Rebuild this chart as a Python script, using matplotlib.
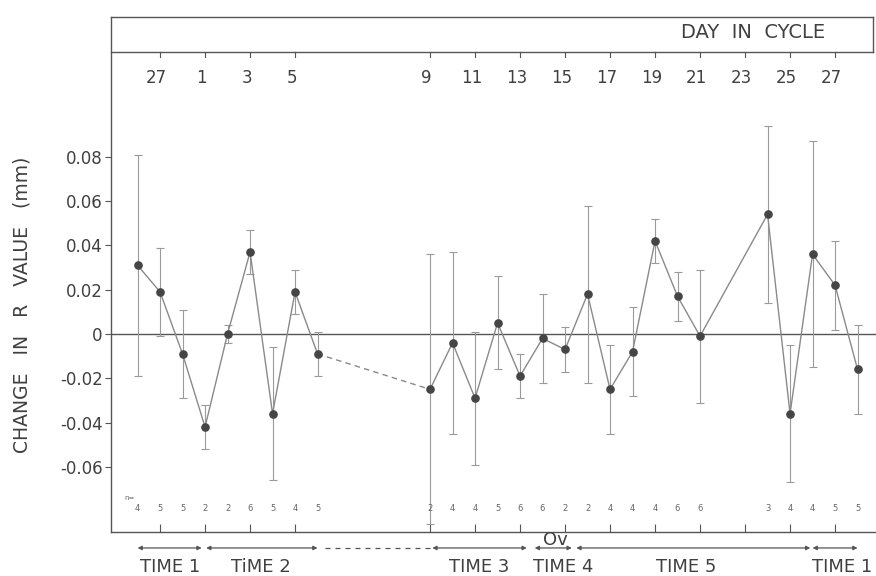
import matplotlib
matplotlib.use("Agg")
import matplotlib.pyplot as plt
import matplotlib.transforms as mtransforms

plt.rcParams["font.family"] = ["DejaVu Sans"]
plt.rcParams["axes.unicode_minus"] = False

# Position of each sample on the plotted time axis (one unit per day)
axis_day = [0, 1, 2, 3, 4, 5, 6, 7, 8,
            13, 14, 15, 16, 17, 18, 19, 20, 21, 22, 23, 24, 25,
            28, 29, 30, 31, 32]
# Mean change in R value (mm) and its error
change = [0.031, 0.019, -0.009, -0.042, 0.000, 0.037, -0.036, 0.019, -0.009,
          -0.025, -0.004, -0.029, 0.005, -0.019, -0.002, -0.007, 0.018, -0.025,
          -0.008, 0.042, 0.017, -0.001,
          0.054, -0.036, 0.036, 0.022, -0.016]
error = [0.050, 0.020, 0.020, 0.010, 0.004, 0.010, 0.030, 0.010, 0.010,
         0.061, 0.041, 0.030, 0.021, 0.010, 0.020, 0.010, 0.040, 0.020,
         0.020, 0.010, 0.011, 0.030,
         0.040, 0.031, 0.051, 0.020, 0.020]
n_obs = [4, 5, 5, 2, 2, 6, 5, 4, 5,
         2, 4, 4, 5, 6, 6, 2, 2, 4, 4, 4, 6, 6,
         3, 4, 4, 5, 5]

# Day-in-cycle labels along the top
cycle_days = [27, 1, 3, 5, 9, 11, 13, 15, 17, 19, 21, 23, 25, 27]
cycle_pos = [1, 3, 5, 7, 13, 15, 17, 19, 21, 23, 25, 27, 29, 31]

y_ticks = [-0.06, -0.04, -0.02, 0, 0.02, 0.04, 0.06, 0.08]
y_labels = ["-0.06", "-0.04", "-0.02", "0", "0.02", "0.04", "0.06", "0.08"]

# Study periods: (label, start, end, label centre)
periods = [("TIME 1", 0.0, 2.85, 1.45),
           ("TiME 2", 3.05, 8.0, 5.5),
           ("TIME 3", 13.1, 17.3, 15.2),
           ("TIME 4", 17.65, 19.3, 18.9),
           ("TIME 5", 19.5, 29.9, 24.4),
           ("TIME 1", 30.0, 32.0, 31.3)]

TXT = "#404040"
AX = "#555555"
LN = "#8a8a8a"

fig = plt.figure(figsize=(8.76, 5.76), dpi=100)
fig.patch.set_facecolor("white")
ax = fig.add_axes([111 / 876, 44 / 576, 765 / 876, 515 / 576])

x_lo, x_hi = -1.18, 32.82
y_lo, y_hi = -0.0894, 0.1431
header_y = 0.1273
right_edge = 32.69
ax.set_xlim(x_lo, x_hi)
ax.set_ylim(y_lo, y_hi)

for s in ("top", "right"):
    ax.spines[s].set_visible(False)
for s in ("left", "bottom"):
    ax.spines[s].set_color(AX)
    ax.spines[s].set_linewidth(1.0)

# y axis ticks
ax.set_yticks(y_ticks)
ax.set_yticklabels(y_labels, fontsize=12, color=TXT)
ax.tick_params(axis="y", direction="out", length=4, width=0.8, color=AX, pad=2)
ax.set_ylabel("CHANGE   IN   R   VALUE   (mm)", fontsize=13.5, color=TXT)
ax.yaxis.set_label_coords(-0.104, 0.441)

# bottom ticks point inward, no labels
ax.set_xticks(cycle_pos)
ax.set_xticklabels([])
ax.tick_params(axis="x", direction="in", length=6, width=0.8, color=AX)

# zero line
ax.axhline(0, color=AX, lw=1.0, zorder=1)

# header box
ax.plot([x_lo, right_edge], [y_hi, y_hi], color=AX, lw=1.0, clip_on=False)
ax.plot([x_lo, right_edge], [header_y, header_y], color=AX, lw=1.0, clip_on=False)
ax.plot([right_edge, right_edge], [header_y, y_hi], color=AX, lw=1.0, clip_on=False)
for p, d in zip(cycle_pos, cycle_days):
    ax.plot([p, p], [header_y, header_y - 0.0022], color=AX, lw=0.8)
    ax.text(p - 0.15, 0.1155, str(d), ha="center", va="center", fontsize=12, color=TXT)
ax.text(30.56, 0.1359, "DAY  IN  CYCLE", ha="right", va="center",
        fontsize=14, color=TXT)

# error bars
ax.errorbar(axis_day, change, yerr=error, fmt="none", ecolor="#9a9a9a",
            elinewidth=0.8, capsize=3, capthick=0.8, zorder=2)

# connecting lines: solid within runs, dashed across the gap
gap = axis_day.index(13)
ax.plot(axis_day[:gap], change[:gap], color=LN, lw=1.0, zorder=3)
ax.plot(axis_day[gap:], change[gap:], color=LN, lw=1.0, zorder=3)
ax.plot(axis_day[gap - 1:gap + 1], change[gap - 1:gap + 1], color=LN, lw=1.0,
        ls=(0, (4, 3)), zorder=3)
ax.plot(axis_day, change, "o", color="#454545", ms=5.2, zorder=4)

# sample sizes
for p, k in zip(axis_day, n_obs):
    ax.text(p, -0.0786, str(k), ha="center", va="center", fontsize=6, color="#666666")
ax.text(-0.35, -0.0741, "n=", ha="center", va="center", fontsize=5, color="#666666")

# period arrows below the axis
trans = mtransforms.blended_transform_factory(ax.transData, ax.transAxes)
arrow_y = -0.031
for label, a, b, c in periods:
    ax.annotate("", xy=(b, arrow_y), xytext=(a, arrow_y), xycoords=trans,
                textcoords=trans, annotation_clip=False,
                arrowprops=dict(arrowstyle="<|-|>", color=AX, lw=0.9,
                                mutation_scale=6, shrinkA=0, shrinkB=0))
    ax.text(c, -0.068, label, transform=trans, ha="center", va="center",
            fontsize=13, color=TXT, clip_on=False)
ax.plot([8.35, 13.0], [arrow_y, arrow_y], transform=trans, color=AX, lw=0.9,
        ls=(0, (4, 4)), clip_on=False)
ax.text(18.55, -0.016, "Ov", transform=trans, ha="center", va="center",
        fontsize=13, color=TXT, clip_on=False)

fig.savefig("out.png", dpi=100, facecolor="white")
